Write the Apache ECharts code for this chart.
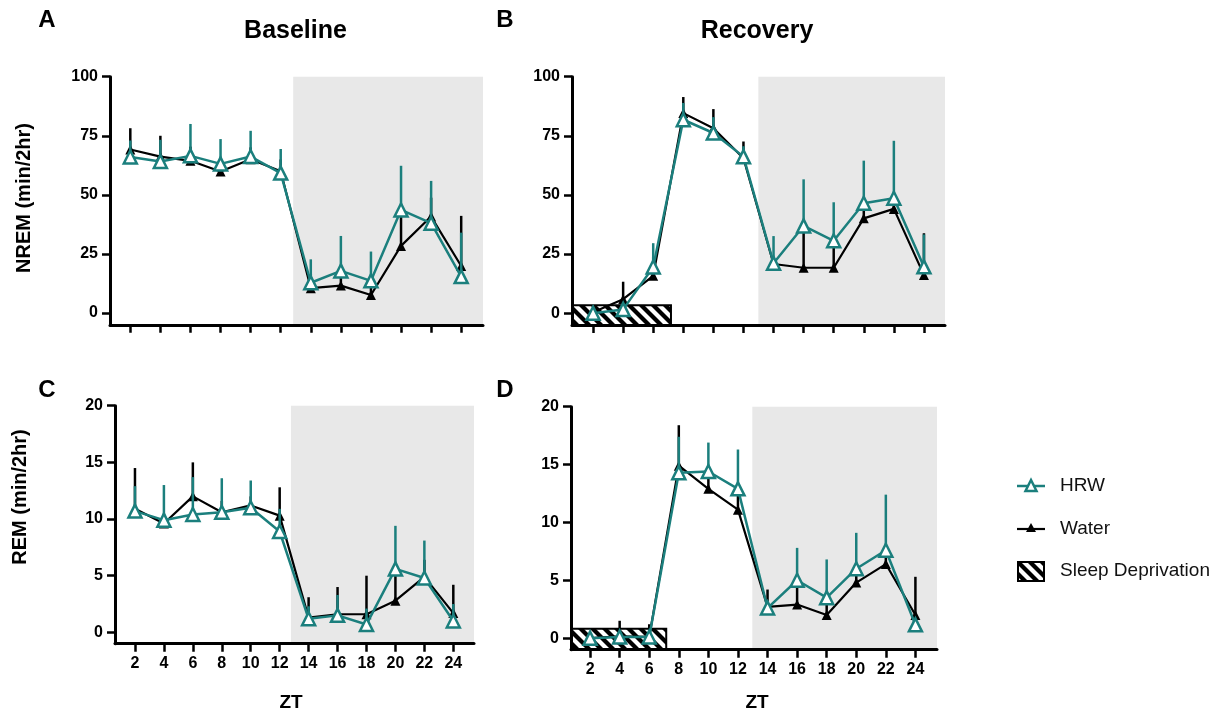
<!DOCTYPE html>
<html>
<head>
<meta charset="utf-8">
<script src="https://cdn.jsdelivr.net/npm/echarts@6/dist/echarts.min.js"></script>
<style>
html,body{margin:0;padding:0;background:#fff;}
#chart{width:1229px;height:717px;}
</style>
</head>
<body>
<div id="chart"></div>
<script>
// ---------------- DATA ----------------
const ZT = [2, 4, 6, 8, 10, 12, 14, 16, 18, 20, 22, 24];
const ZT_TICKS = [2, 4, 6, 8, 10, 12, 14, 16, 18, 20, 22, 24];
const NREM_TICKS = [0, 25, 50, 75, 100];
const REM_TICKS = [0, 5, 10, 15, 20];

// A: NREM Baseline
const hrwNremBase      = [66.0, 64.1, 66.5, 63.1, 66.2, 59.2, 12.8, 17.8, 13.6, 43.6, 38.0, 15.4];
const hrwNremBaseErr   = [7.0, 9.2, 13.5, 10.5, 10.9, 10.2, 9.9, 14.8, 12.4, 18.7, 17.9, 18.6];
const waterNremBase    = [69.2, 66.2, 64.4, 59.9, 65.1, 60.0, 10.5, 11.6, 7.6, 28.4, 40.8, 19.9];
const waterNremBaseErr = [9.0, 8.8, 6.0, 5.0, 5.0, 5.0, 6.0, 5.0, 5.0, 14.0, 8.0, 21.2];

// B: NREM Recovery
const hrwNremRec      = [0.0, 1.6, 19.5, 81.8, 76.2, 66.2, 21.1, 36.9, 30.6, 46.5, 48.6, 19.6];
const hrwNremRecErr   = [0, 0, 10.1, 7.1, 6.7, 4.4, 11.5, 19.7, 16.3, 18.0, 24.3, 13.7];
const waterNremRec    = [0.4, 5.9, 15.8, 84.6, 78.2, 65.5, 20.8, 19.2, 19.2, 40.1, 44.1, 16.1];
const waterNremRecErr = [0, 7.4, 8.0, 6.8, 8.1, 7.1, 3.0, 17.0, 12.0, 6.0, 5.0, 17.7];

// C: REM Baseline
const hrwRemBase      = [10.7, 9.9, 10.4, 10.6, 11.0, 8.9, 1.2, 1.5, 0.7, 5.6, 4.8, 1.0];
const hrwRemBaseErr   = [2.2, 3.1, 3.3, 3.0, 2.4, 2.0, 1.1, 1.8, 1.4, 3.8, 3.3, 1.5];
const waterRemBase    = [10.9, 9.6, 12.0, 10.6, 11.2, 10.3, 1.3, 1.6, 1.6, 2.8, 4.9, 1.7];
const waterRemBaseErr = [3.6, 0.8, 3.0, 1.0, 0.8, 2.5, 1.8, 2.4, 3.4, 2.8, 1.5, 2.5];

// D: REM Recovery
const hrwRemRec      = [0.0, 0.1, 0.1, 14.3, 14.4, 12.9, 2.6, 5.0, 3.5, 6.0, 7.6, 1.15];
const hrwRemRecErr   = [0, 0, 0, 3.1, 2.5, 3.4, 0.6, 2.8, 3.3, 3.1, 4.8, 0.4];
const waterRemRec    = [0.0, 0.15, 0.1, 14.9, 12.9, 11.1, 2.7, 2.9, 2.0, 4.8, 6.4, 2.0];
const waterRemRecErr = [0, 1.35, 1.1, 3.5, 1.5, 1.5, 1.5, 2.1, 1.5, 1.2, 1.2, 3.3];

// dark phase start (ZT) and sleep-deprivation window (ZT 0-6)
const darkStart = [12.83, 12.99, 12.78, 12.97];
const sdEnd = [7.18, 7.15];
const sdTop = [3.3, 0.8];

// ---------------- STYLE ----------------
const TEAL = '#1b7f7d';
const FONT = '"Liberation Sans", Arial, Helvetica, sans-serif';

function makeHatch() {
  const c = document.createElement('canvas');
  c.width = 12; c.height = 12;
  const g = c.getContext('2d');
  g.fillStyle = '#fff';
  g.fillRect(0, 0, 12, 12);
  g.strokeStyle = '#000';
  g.lineWidth = 4.2;
  for (const k of [-12, 0, 12]) {
    g.beginPath();
    g.moveTo(k - 3, -3);
    g.lineTo(k + 15, 15);
    g.stroke();
  }
  return c;
}
const hatch = { image: makeHatch(), repeat: 'repeat' };

const grids = [
  { left: 110, top: 76.7, width: 373, height: 248.1 },
  { left: 572, top: 76.7, width: 373, height: 248.3 },
  { left: 115, top: 405.7, width: 359, height: 238 },
  { left: 571, top: 406.7, width: 366, height: 243 }
];
const xRanges = [[0.65, 25.45], [0.6, 25.4], [0.62, 25.43], [0.71, 25.46]];
const yRanges = [[-5, 100], [-5, 100], [-1, 20], [-1, 20]];
const yTicks = [NREM_TICKS, NREM_TICKS, REM_TICKS, REM_TICKS];

const axisLineStyle = { color: '#000', width: 3 };
const labelStyle = { color: '#000', fontWeight: 'bold', fontSize: 16, fontFamily: FONT };

const xAxes = grids.map((g, i) => ({
  type: 'value', gridIndex: i, min: xRanges[i][0], max: xRanges[i][1], z: 10,
  axisLine: { onZero: false, lineStyle: axisLineStyle },
  axisTick: { show: true, length: 8, lineStyle: { color: '#000', width: 2.5 }, customValues: ZT_TICKS },
  axisLabel: Object.assign({ show: i >= 2, margin: 12, customValues: ZT_TICKS }, labelStyle),
  splitLine: { show: false }
}));
const yAxes = grids.map((g, i) => ({
  type: 'value', gridIndex: i, min: yRanges[i][0], max: yRanges[i][1], z: 10,
  axisLine: { onZero: false, lineStyle: axisLineStyle },
  axisTick: { show: true, length: 8, lineStyle: { color: '#000', width: 2.5 }, customValues: yTicks[i] },
  axisLabel: Object.assign({ show: true, margin: 12, customValues: yTicks[i] }, labelStyle),
  splitLine: { show: false }
}));

function errSeries(idx, means, errs, color, z) {
  return {
    type: 'custom', xAxisIndex: idx, yAxisIndex: idx, z: z, silent: true,
    data: ZT.map((t, i) => [t, means[i], errs[i]]),
    encode: { x: 0, y: 1 },
    renderItem: function (params, api) {
      const x = api.value(0), y = api.value(1), e = api.value(2);
      if (!e) return null;
      const p0 = api.coord([x, y]);
      const p1 = api.coord([x, y + e]);
      return { type: 'line', shape: { x1: p0[0], y1: p0[1], x2: p1[0], y2: p1[1] },
               style: { stroke: color, lineWidth: 2.5 } };
    }
  };
}
function hrwLine(idx, means) {
  return {
    type: 'line', name: 'HRW', xAxisIndex: idx, yAxisIndex: idx, z: 6,
    data: ZT.map((t, i) => [t, means[i]]),
    symbol: 'triangle', symbolSize: 13, showAllSymbol: true,
    lineStyle: { color: TEAL, width: 2.5 },
    itemStyle: { color: '#fff', borderColor: TEAL, borderWidth: 2.5 },
    emphasis: { disabled: true }, silent: true
  };
}
function waterLine(idx, means) {
  return {
    type: 'line', name: 'Water', xAxisIndex: idx, yAxisIndex: idx, z: 4,
    data: ZT.map((t, i) => [t, means[i]]),
    symbol: 'triangle', symbolSize: 10, showAllSymbol: true,
    lineStyle: { color: '#000', width: 2.2 },
    itemStyle: { color: '#000' },
    emphasis: { disabled: true }, silent: true
  };
}
function shadeSeries(idx) {
  const areas = [[{ xAxis: darkStart[idx], yAxis: yRanges[idx][0] }, { xAxis: xRanges[idx][1], yAxis: yRanges[idx][1] }]];
  return {
    type: 'line', xAxisIndex: idx, yAxisIndex: idx, z: 1, data: [], silent: true,
    markArea: { silent: true, itemStyle: { color: '#e8e8e8' }, data: areas }
  };
}
function sdSeries(idx, k) {
  return {
    type: 'line', xAxisIndex: idx, yAxisIndex: idx, z: 2, data: [], silent: true,
    markArea: {
      silent: true,
      itemStyle: { color: hatch, borderColor: '#000', borderWidth: 2 },
      data: [[{ xAxis: xRanges[idx][0], yAxis: yRanges[idx][0] }, { xAxis: sdEnd[k], yAxis: sdTop[k] }]]
    }
  };
}

const series = [];
const panels = [
  [hrwNremBase, hrwNremBaseErr, waterNremBase, waterNremBaseErr],
  [hrwNremRec, hrwNremRecErr, waterNremRec, waterNremRecErr],
  [hrwRemBase, hrwRemBaseErr, waterRemBase, waterRemBaseErr],
  [hrwRemRec, hrwRemRecErr, waterRemRec, waterRemRecErr]
];
panels.forEach((p, i) => {
  series.push(shadeSeries(i));
  if (i === 1) series.push(sdSeries(1, 0));
  if (i === 3) series.push(sdSeries(3, 1));
  series.push(errSeries(i, p[2], p[3], '#000', 3));
  series.push(waterLine(i, p[2]));
  series.push(errSeries(i, p[0], p[1], TEAL, 5));
  series.push(hrwLine(i, p[0]));
});

function txt(x, y, text, size, weight, extra) {
  return Object.assign({
    type: 'text', x: x, y: y, z: 100,
    style: { text: text, fill: '#000', font: weight + ' ' + size + 'px ' + FONT, textAlign: 'center', textVerticalAlign: 'middle' }
  }, extra || {});
}

const graphic = [
  txt(47, 20, 'A', 24, 'bold'),
  txt(505, 20, 'B', 24, 'bold'),
  txt(47, 390, 'C', 24, 'bold'),
  txt(505, 390, 'D', 24, 'bold'),
  txt(295.5, 31, 'Baseline', 25, 'bold'),
  txt(757, 31, 'Recovery', 25, 'bold'),
  txt(24, 198, 'NREM (min/2hr)', 20, 'bold', { rotation: Math.PI / 2 }),
  txt(20, 497, 'REM (min/2hr)', 20, 'bold', { rotation: Math.PI / 2 }),
  txt(291, 703, 'ZT', 19, 'bold'),
  txt(757, 703, 'ZT', 19, 'bold'),
  // legend
  { type: 'line', z: 100, shape: { x1: 1017, y1: 486, x2: 1045, y2: 486 }, style: { stroke: TEAL, lineWidth: 2.5 } },
  { type: 'polygon', z: 101, shape: { points: [[1031, 480], [1025.5, 491], [1036.5, 491]] }, style: { fill: '#fff', stroke: TEAL, lineWidth: 2.5 } },
  { type: 'line', z: 100, shape: { x1: 1017, y1: 529, x2: 1045, y2: 529 }, style: { stroke: '#000', lineWidth: 2.2 } },
  { type: 'polygon', z: 101, shape: { points: [[1031, 523], [1026, 532], [1036, 532]] }, style: { fill: '#000' } },
  { type: 'rect', z: 100, shape: { x: 1018, y: 562, width: 26, height: 19 }, style: { fill: hatch, stroke: '#000', lineWidth: 2 } },
  txt(1060, 486, 'HRW', 19, 'normal'),
  txt(1060, 529, 'Water', 19, 'normal'),
  txt(1060, 571, 'Sleep Deprivation', 19, 'normal')
];
graphic.slice(-3).forEach(g => { g.style.textAlign = 'left'; g.style.fill = '#111'; });

const chart = echarts.init(document.getElementById('chart'), null, { renderer: 'canvas' });
chart.setOption({
  backgroundColor: '#fff',
  animation: false,
  grid: grids,
  xAxis: xAxes,
  yAxis: yAxes,
  series: series,
  graphic: graphic
});
</script>
</body>
</html>
